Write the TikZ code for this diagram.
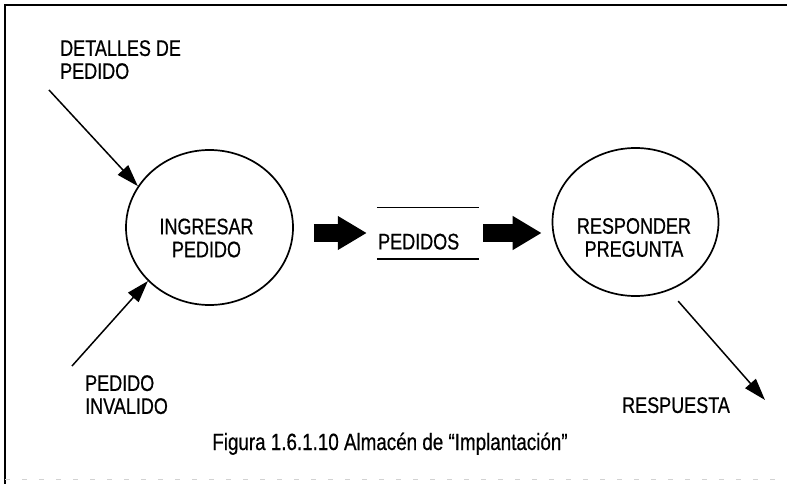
\documentclass[tikz,border=0pt]{standalone}
\usepackage{fontspec}
\setmainfont{Liberation Sans}[FakeStretch=0.8,FakeBold=0.6]
\usetikzlibrary{shapes.geometric,arrows.meta}
\begin{document}
\begin{tikzpicture}[x=1pt,y=-1pt,
  lab/.style={font=\fontsize{22.5}{23}\selectfont, inner sep=0pt, align=left},
  proc/.style={ellipse, draw, line width=1.7pt, minimum width=167pt, minimum height=155pt, inner sep=0pt},
  flow/.style={line width=1.5pt, -{Triangle[length=22pt,width=14pt]}},
  bigflow/.style={line width=18pt, -{Triangle[length=29pt,width=32pt]}},
  storeline/.style={line width=1.6pt}
]
\useasboundingbox (0,0) rectangle (787,484);
% frame
\draw[line width=2pt] (5,484) -- (5,5) -- (787,5);
\draw[gray!35, line width=1pt, dash pattern=on 5pt off 12pt] (5,479) -- (787,479);

% processes
\node[proc] (ing) at (209.5,227.5) {};
\node[proc, minimum width=166pt, minimum height=148pt] (resp) at (635.5,222) {};
\node[lab, align=center] (ingt) at (206.5,238) {INGRESAR\\PEDIDO};
\node[lab, align=center] (respt) at (634,237.5) {RESPONDER\\PREGUNTA};

% store
\node[minimum width=102pt, minimum height=51pt, inner sep=0pt] (st) at (428,233) {};
\draw[storeline] (st.north west) -- (st.north east) (st.south west) -- (st.south east);
\node[lab, anchor=north west] (stl) at (378,233.5) {PEDIDOS};

% block arrows
\draw[bigflow, shorten <=20pt, shorten >=10pt] (ing.east |- st.west) -- (st.west);
\draw[bigflow, shorten <=4pt, shorten >=10pt] (st.east) -- (resp.west |- st.east);

% external flows
\node[lab, anchor=north west] (det) at (60,40) {DETALLES DE\\PEDIDO};
\node[lab, anchor=north west] (inv) at (85,375) {PEDIDO\\INVALIDO};
\node[lab, anchor=north west] (res) at (622,397) {RESPUESTA};
\coordinate (d0) at (49,90);
\coordinate (i0) at (72,366);
\coordinate (r1) at (765,400);
\draw[flow] (d0) -- (ing.150);
\draw[flow] (i0) -- (ing.221);
\draw[flow, shorten <=14pt] (resp.-64) -- (r1);

% caption
\node[font=\fontsize{23.5}{24}\selectfont, inner sep=0pt, anchor=base] (cap) at (390,450) {Figura 1.6.1.10 Almacén de “Implantación”};
\end{tikzpicture}
\end{document}
